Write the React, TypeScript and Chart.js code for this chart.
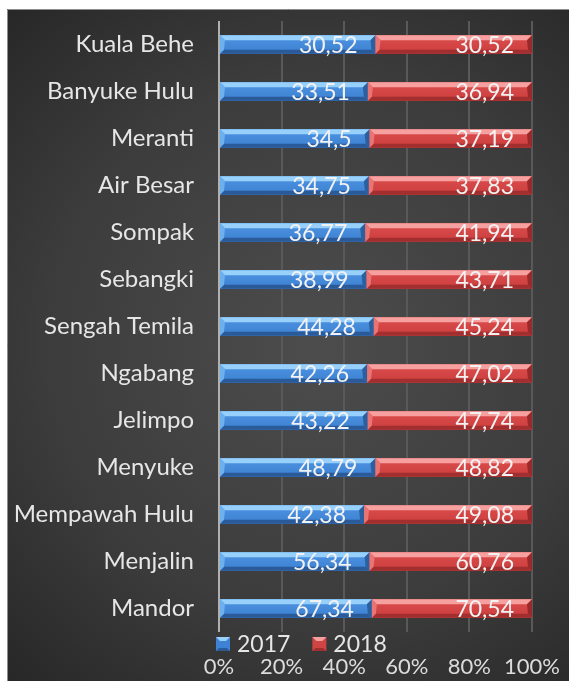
import React, { useEffect, useRef } from 'react';
import { Chart, registerables } from 'chart.js';

Chart.register(...registerables);

const categories = [
  'Kuala Behe',
  'Banyuke Hulu',
  'Meranti',
  'Air Besar',
  'Sompak',
  'Sebangki',
  'Sengah Temila',
  'Ngabang',
  'Jelimpo',
  'Menyuke',
  'Mempawah Hulu',
  'Menjalin',
  'Mandor',
];
const values2017 = [30.52, 33.51, 34.5, 34.75, 36.77, 38.99, 44.28, 42.26, 43.22, 48.79, 42.38, 56.34, 67.34];
const values2018 = [30.52, 36.94, 37.19, 37.83, 41.94, 43.71, 45.24, 47.02, 47.74, 48.82, 49.08, 60.76, 70.54];
const seriesLabels = ['2017', '2018'];
const xTickValues = [0, 20, 40, 60, 80, 100];

const share2017 = values2017.map((v, i) => (v / (v + values2018[i])) * 100);
const share2018 = values2018.map((v, i) => (v / (values2017[i] + v)) * 100);

const fmt = (v: number) => String(v).replace('.', ',');

const palettes = [
  { top: '#97d0fb', left: '#6db0f0', mid1: '#4f95e4', mid2: '#3c7fd0', right: '#2b609f', bottom: '#2a5a98', legend: '#3d82d4' },
  { top: '#f6a0a0', left: '#e97474', mid1: '#dc4d4d', mid2: '#cc3d3d', right: '#982a2a', bottom: '#a12f2f', legend: '#d04444' },
];

const bgPlugin = {
  id: 'bgPlugin',
  beforeDraw(chart: any) {
    const { ctx, width, height } = chart;
    ctx.save();
    const g = ctx.createRadialGradient(width * 0.55, height * 0.5, 10, width * 0.55, height * 0.5, Math.max(width, height) * 0.72);
    g.addColorStop(0, '#4c4c4c');
    g.addColorStop(0.55, '#3c3c3c');
    g.addColorStop(1, '#242424');
    ctx.fillStyle = g;
    ctx.fillRect(0, 0, width, height);
    ctx.strokeStyle = '#8c8c8c';
    ctx.lineWidth = 1;
    ctx.beginPath();
    ctx.moveTo(0.5, height);
    ctx.lineTo(0.5, 0.5);
    ctx.lineTo(width, 0.5);
    ctx.stroke();
    ctx.restore();
  },
};

function poly(ctx: CanvasRenderingContext2D, pts: number[][], color: string) {
  ctx.beginPath();
  ctx.moveTo(pts[0][0], pts[0][1]);
  for (let k = 1; k < pts.length; k++) ctx.lineTo(pts[k][0], pts[k][1]);
  ctx.closePath();
  ctx.fillStyle = color;
  ctx.fill();
}

const barPlugin = {
  id: 'barPlugin',
  afterDatasetsDraw(chart: any) {
    const ctx: CanvasRenderingContext2D = chart.ctx;
    ctx.save();
    chart.data.datasets.forEach((ds: any, i: number) => {
      const meta = chart.getDatasetMeta(i);
      const pal = palettes[i];
      meta.data.forEach((el: any, j: number) => {
        const p = el.getProps(['x', 'y', 'base', 'height'], true);
        const l = Math.min(p.x, p.base);
        const r = Math.max(p.x, p.base);
        const t = p.y - p.height / 2;
        const b = p.y + p.height / 2;
        const bv = 5;
        const g = ctx.createLinearGradient(0, t, 0, b);
        g.addColorStop(0, pal.mid1);
        g.addColorStop(1, pal.mid2);
        ctx.fillStyle = g;
        ctx.fillRect(l, t, r - l, b - t);
        poly(ctx, [[l, t], [r, t], [r - bv, t + bv], [l + bv, t + bv]], pal.top);
        poly(ctx, [[l, b], [r, b], [r - bv + 1, b - bv + 1], [l + bv - 1, b - bv + 1]], pal.bottom);
        poly(ctx, [[l, t], [l + bv, t + bv], [l + bv - 1, b - bv + 1], [l, b]], pal.left);
        poly(ctx, [[r, t], [r - bv, t + bv], [r - bv + 1, b - bv + 1], [r, b]], pal.right);

        const raw = ds.rawValues[j];
        ctx.font = '23px Lato';
        ctx.fillStyle = '#f2f2f2';
        ctx.textAlign = 'right';
        ctx.textBaseline = 'middle';
        ctx.fillText(fmt(raw), r - 18, p.y + 1);
      });
    });
    ctx.restore();
  },
};

const legendPlugin = {
  id: 'customLegend',
  afterDraw(chart: any) {
    const ctx: CanvasRenderingContext2D = chart.ctx;
    const area = chart.chartArea;
    ctx.save();
    ctx.font = '23px Lato';
    ctx.textAlign = 'left';
    ctx.textBaseline = 'middle';
    let x = area.left - 3;
    const cy = area.bottom + 12;
    chart.data.datasets.forEach((ds: any, i: number) => {
      const pal = palettes[i];
      const s = 14;
      const bx = x;
      const by = cy - s / 2;
      ctx.fillStyle = pal.legend;
      ctx.fillRect(bx, by, s, s);
      poly(ctx, [[bx, by], [bx + s, by], [bx + s - 4, by + 4], [bx + 4, by + 4]], pal.top);
      poly(ctx, [[bx, by + s], [bx + s, by + s], [bx + s - 3, by + s - 3], [bx + 3, by + s - 3]], pal.bottom);
      ctx.fillStyle = '#e6e6e6';
      ctx.fillText(ds.label, bx + s + 7, cy + 1);
      x = bx + s + 7 + ctx.measureText(ds.label).width + 22;
    });
    ctx.restore();
  },
};

export default function App() {
  const ref = useRef<HTMLCanvasElement | null>(null);

  useEffect(() => {
    document.body.style.margin = '0';
    if (!ref.current) return;
    const chart = new Chart(ref.current, {
      type: 'bar',
      data: {
        labels: categories,
        datasets: [
          { label: seriesLabels[0], data: share2017, rawValues: values2017, backgroundColor: palettes[0].mid1, borderWidth: 0 } as any,
          { label: seriesLabels[1], data: share2018, rawValues: values2018, backgroundColor: palettes[1].mid1, borderWidth: 0 } as any,
        ],
      },
      options: {
        indexAxis: 'y',
        responsive: false,
        animation: false,
        events: [],
        layout: { padding: { top: 12, right: 37, left: 0, bottom: 0 } },
        datasets: { bar: { barPercentage: 0.39, categoryPercentage: 1 } },
        plugins: { legend: { display: false }, tooltip: { enabled: false } },
        scales: {
          x: {
            stacked: true,
            min: 0,
            max: 100,
            afterBuildTicks: (s: any) => {
              s.ticks = xTickValues.map((v) => ({ value: v }));
            },
            ticks: {
              callback: (v: any) => v + '%',
              color: '#dcdcdc',
              font: { family: 'Lato', size: 22 },
              padding: 22,
              maxRotation: 0,
            },
            grid: {
              drawTicks: false,
              color: (c: any) => (c.index === 0 ? '#b0b0b0' : '#595959'),
              lineWidth: 2,
            },
            border: { display: false },
            afterFit: (s: any) => {
              s.height = 49;
              s.paddingLeft = 0;
              s.paddingRight = 0;
            },
          },
          y: {
            stacked: true,
            grid: { display: false, drawTicks: false },
            border: { display: false },
            ticks: {
              color: '#e6e6e6',
              font: { family: 'Lato', size: 24 },
              padding: 25,
            },
            afterFit: (s: any) => {
              s.width = 212;
              s.paddingTop = 0;
              s.paddingBottom = 0;
            },
          },
        },
      } as any,
      plugins: [bgPlugin, barPlugin, legendPlugin],
    });
    return () => chart.destroy();
  }, []);

  return (
    <div style={{ paddingLeft: 7, paddingTop: 9 }}>
      <canvas ref={ref} width={562} height={672} style={{ display: 'block' }} />
    </div>
  );
}
